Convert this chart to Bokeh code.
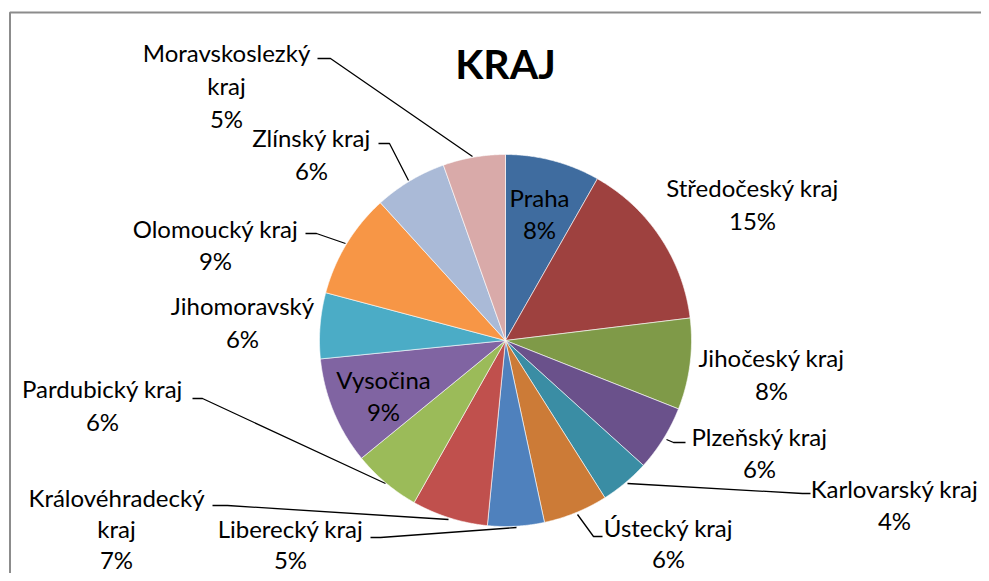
import numpy as np
from bokeh.plotting import figure
from bokeh.models import Range1d, ColumnDataSource
from bokeh.core.properties import value
from bokeh.embed import file_html
from bokeh.resources import INLINE

# ---- data ----
regions = ["Praha", "Středočeský kraj", "Jihočeský kraj", "Plzeňský kraj",
           "Karlovarský kraj", "Ústecký kraj", "Liberecký kraj",
           "Královéhradecký\nkraj", "Pardubický kraj", "Vysočina",
           "Jihomoravský", "Olomoucký kraj", "Zlínský kraj",
           "Moravskoslezký\nkraj"]
shares = [8.2, 14.8, 7.9, 5.7, 4.3, 5.6, 4.9, 6.6, 5.9, 9.3, 5.7, 9.1, 6.3, 5.4]
colors = ["#3F6C9F", "#9E413F", "#7F9A48", "#6A518B", "#3A8DA4", "#CC7B37",
          "#4F81BD", "#C0504D", "#9BBB59", "#8064A2", "#4BACC6", "#F79646",
          "#AABAD7", "#D9AAA9"]
title_text = "KRAJ"

# ---- layout (screen-like coordinates, y downwards) ----
cx, cy, r = 505, 340, 186
label_pos = [(539, 197), (752, 187), (771, 357), (759, 436), (894, 488),
             (668, 527), (290, 528), (116, 497), (102, 388), (383, 379),
             (242, 305), (215, 228), (311, 137), (226, 52)]
line_gaps = [32, 33, 33, 32, 32, 31, 31, 31, 33, 32, 33, 32, 33, 33]
leaders = [
    None, None, None,
    [(666, 439), (673, 442), (685, 442)],
    [(627, 483), (802, 493), (810, 493)],
    [(577, 514), (593, 536), (602, 536)],
    [(516, 527), (380, 537), (370, 537)],
    [(448, 519), (227, 505), (212, 505)],
    [(385, 483), (202, 398), (192, 398)],
    None,
    None,
    [(345, 243), (316, 233), (305, 233)],
    [(408, 180), (389, 143), (378, 143)],
    [(472, 156), (330, 58), (317, 58)],
]

p = figure(width=981, height=573, x_range=Range1d(0, 981), y_range=Range1d(573, 0),
           output_backend="svg", toolbar_location=None, min_border=0,
           x_axis_location=None, y_axis_location=None, tools="")
p.grid.visible = False
p.outline_line_color = None
p.background_fill_color = "white"
p.border_fill_color = "white"

# chart border (only left/top visible in the crop)
p.line(x=[9.5, 9.5, 985], y=[580, 12, 12], line_color="#8C8C8C", line_width=2)

# slices
total = sum(shares)
xs, ys = [], []
start = 0.0
for v in shares:
    span = v / total * 2 * np.pi
    t = np.linspace(start, start + span, 80)
    xs.append([cx] + list(cx + r * np.sin(t)))
    ys.append([cy] + list(cy - r * np.cos(t)))
    start += span
p.patches(xs=xs, ys=ys, fill_color=colors, line_color="white", line_width=0.6)

# leader lines
lx, ly = [], []
for ld in leaders:
    if ld:
        lx.append([a for a, b in ld])
        ly.append([b for a, b in ld])
p.multi_line(xs=lx, ys=ly, line_color="black", line_width=1.3)

# labels
tx, ty, tt = [], [], []
for name, v, (x0, y0), gap in zip(regions, shares, label_pos, line_gaps):
    lines = name.split("\n") + [f"{round(v / total * 100)}%"]
    for i, s in enumerate(lines):
        tx.append(x0)
        ty.append(y0 + i * gap)
        tt.append(s)
src = ColumnDataSource(dict(x=tx, y=ty, text=tt))
p.text(x="x", y="y", text="text", source=src, text_font=value("Lato"),
       text_font_size="24px", text_align="center", text_baseline="middle",
       text_color="black")

p.text(x=[505], y=[63], text=[title_text], text_font=value("Lato"),
       text_font_size="41px", text_font_style="bold", text_align="center",
       text_baseline="middle", text_color="black")

open("out.html", "w").write(file_html(p, INLINE))
